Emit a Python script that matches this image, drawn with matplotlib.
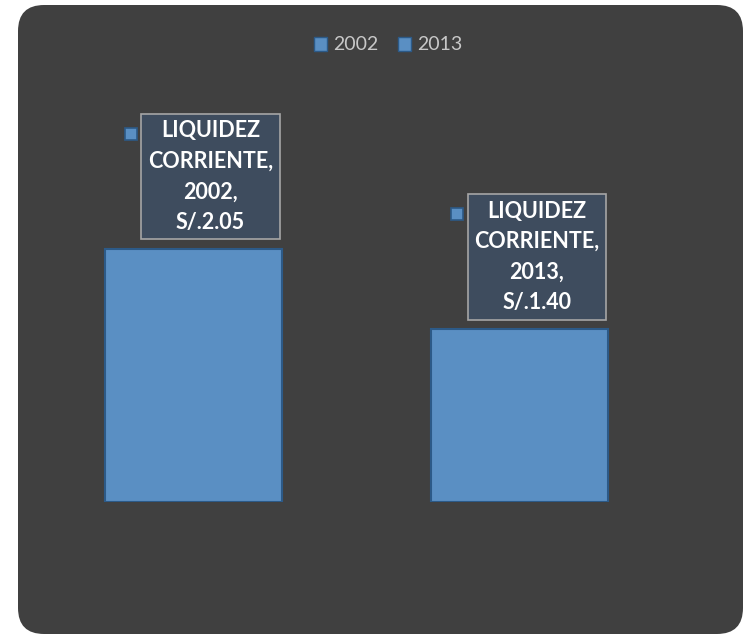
import matplotlib
matplotlib.use('Agg')
from matplotlib import pyplot as plt
from matplotlib.patches import FancyBboxPatch, Patch
from matplotlib.transforms import offset_copy

plt.rcParams['font.family'] = ['Lato', 'DejaVu Sans']

# data
years = ['2002', '2013']
liquidez = [2.05, 1.40]
label_name = 'LIQUIDEZ\nCORRIENTE'

bar_color = '#5A8FC3'
edge_color = '#2C5A88'
bg_color = '#404040'

W, H = 745, 636
fig = plt.figure(figsize=(W / 100, H / 100), dpi=100)
fig.patch.set_facecolor('white')

# rounded dark background panel (behind the axes)
panel = FancyBboxPatch((18 / W, 2 / H), (W - 20) / W, (H - 7) / H,
                       boxstyle='round,pad=0,rounding_size=0.035',
                       transform=fig.transFigure, facecolor=bg_color,
                       edgecolor='none', mutation_aspect=W / H, zorder=-5)
fig.patches.append(panel)

# axes placed so bars sit like in the original
ax = fig.add_axes([30 / W, 134 / H, 677 / W, 422 / H])
ax.set_zorder(1)
ax.set_facecolor('none')
ax.set_xlim(-0.5015, 1.575)
ax.set_ylim(0, 422 / 123.4)
for s in ax.spines.values():
    s.set_visible(False)
ax.set_xticks([])
ax.set_yticks([])

x = list(range(len(years)))
ax.bar(x, liquidez, width=0.543, color=bar_color, edgecolor=edge_color,
       linewidth=1.5, zorder=2)

for i, (yr, v) in enumerate(zip(years, liquidez)):
    txt = '%s,\n%s,\nS/.%.2f' % (label_name, yr, v)
    ax.annotate(txt, xy=(i, v), xytext=(17, 16), textcoords='offset pixels',
                ha='center', va='bottom', color='white', fontsize=15.5,
                fontweight='bold', linespacing=1.56, zorder=4,
                bbox=dict(boxstyle='square,pad=0.3', facecolor='#3E4C5E',
                          edgecolor='#A6A6A6', linewidth=1.2))
    tr = offset_copy(ax.transData, fig=fig, x=-63, y=115, units='dots')
    ax.plot([i], [v], marker='s', markersize=8.5, color=bar_color,
            markeredgecolor=edge_color, markeredgewidth=1.2,
            transform=tr, zorder=4, clip_on=False)

handles = [Patch(facecolor=bar_color, edgecolor=edge_color, label=y) for y in years]
fig.legend(handles=handles, loc='center', bbox_to_anchor=(388 / W, 1 - 45 / H),
           ncol=2, frameon=False, fontsize=14, labelcolor='#C8C8C8',
           handlelength=0.7, handleheight=0.7, handletextpad=0.3,
           columnspacing=1.0)

fig.savefig('out.png', dpi=100, facecolor=fig.get_facecolor())
